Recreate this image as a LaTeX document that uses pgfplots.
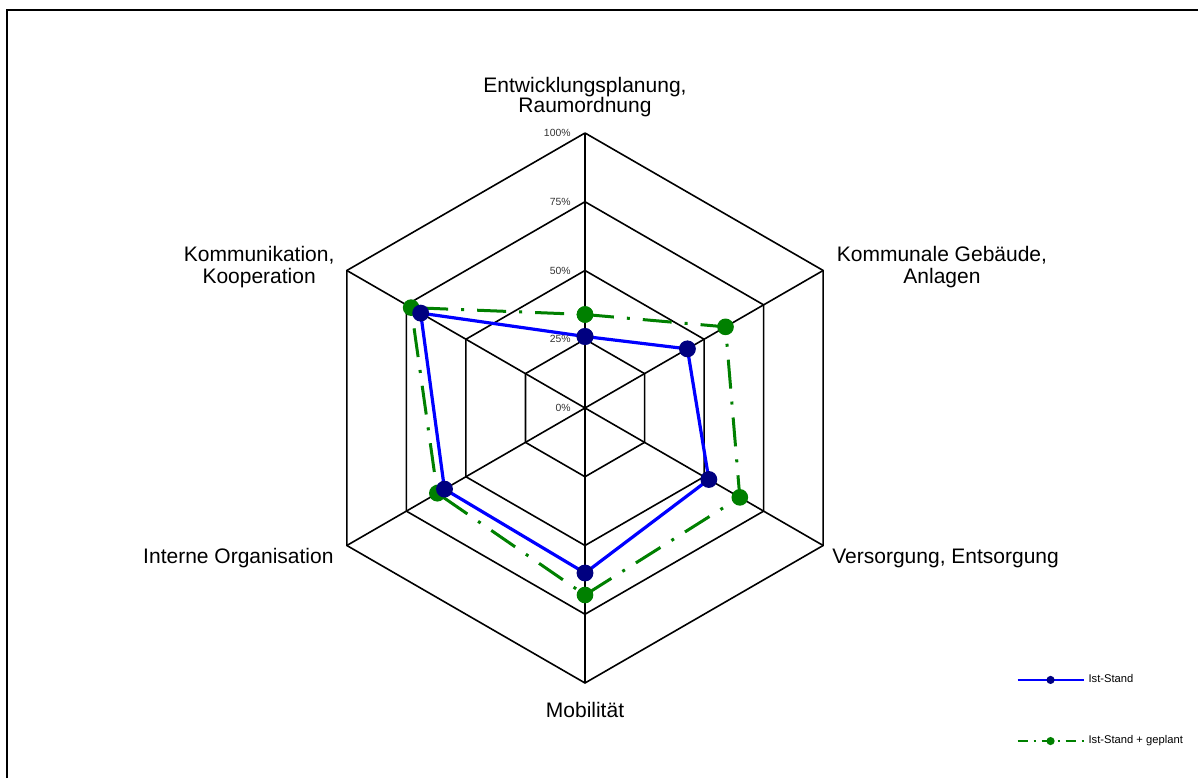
\documentclass[border=0pt]{standalone}
\usepackage{fontspec}
\setmainfont{Liberation Sans}
\usepackage{pgfplots}
\pgfplotsset{compat=1.18}
\definecolor{istline}{RGB}{0,0,255}
\definecolor{istmark}{RGB}{0,0,128}
\definecolor{plangreen}{RGB}{0,128,0}
\tikzset{
    lbl/.style={inner sep=0pt, font=\fontsize{10.5}{12.6}\selectfont},
    tck/.style={inner sep=0pt, anchor=east, text=black!80, font=\fontsize{5.2}{6}\selectfont},
}
\pgfplotsset{
    grid line/.style={black, line width=0.8pt, forget plot, mark=none},
    planlegend/.style={legend image code/.code={\draw[##1, dash pattern=on 5pt off 3pt on 1pt off 3pt,
        mark repeat=2, mark phase=2] plot coordinates {(0pt,0pt) (16.5pt,0pt) (33pt,0pt)};}},
}

\begin{document}
\begin{tikzpicture}
\begin{axis}[
    scale only axis, width=599pt, height=389pt,
    xmin=-212.73, xmax=222.91, ymin=-134.55, ymax=148.36,
    hide axis, clip=false,
    legend style={draw=none, fill=none, at={(axis cs:154.6,-110)}, anchor=west,
        font=\fontsize{5.6}{6.5}\selectfont, row sep=21pt, cells={anchor=west}},
    legend image code/.code={\draw[#1, mark repeat=2, mark phase=2]
        plot coordinates {(0pt,0pt) (16.5pt,0pt) (33pt,0pt)};},
    legend image post style={mark size=1.5pt, line width=1pt},
    reverse legend,
]
% Netz (Sechsecke und Speichen)
\addplot[grid line, data cs=polar] coordinates {(90,25) (30,25) (-30,25) (-90,25) (-150,25) (150,25) (90,25)};
\addplot[grid line, data cs=polar] coordinates {(90,50) (30,50) (-30,50) (-90,50) (-150,50) (150,50) (90,50)};
\addplot[grid line, data cs=polar] coordinates {(90,75) (30,75) (-30,75) (-90,75) (-150,75) (150,75) (90,75)};
\addplot[grid line, data cs=polar] coordinates {(90,100) (30,100) (-30,100) (-90,100) (-150,100) (150,100) (90,100)};
\addplot[grid line, data cs=polar] coordinates {(90,100) (270,100)};
\addplot[grid line, data cs=polar] coordinates {(30,100) (210,100)};
\addplot[grid line, data cs=polar] coordinates {(150,100) (330,100)};

% Ist-Stand + geplant
\addplot[data cs=polar, plangreen, line width=1.5pt, dash pattern=on 14.5pt off 6.5pt on 1.5pt off 6.5pt,
    mark=*, mark size=3.4pt, mark options={solid, fill=plangreen, draw=plangreen}, planlegend]
    coordinates {(90,34) (30,59) (-30,65) (-90,68) (-150,62) (150,73) (90,34)};
\addlegendentry{Ist-Stand + geplant}

% Ist-Stand
\addplot[data cs=polar, istline, line width=1.6pt,
    mark=*, mark size=3.4pt, mark options={fill=istmark, draw=istmark}]
    coordinates {(90,26) (30,43) (-30,52) (-90,60) (-150,59) (150,69) (90,26)};
\addlegendentry{Ist-Stand}

% Prozentbeschriftung
\node[tck] at (axis cs:-5.1,0) {0\%};
\node[tck] at (axis cs:-5.1,25) {25\%};
\node[tck] at (axis cs:-5.1,50) {50\%};
\node[tck] at (axis cs:-5.1,75) {75\%};
\node[tck] at (axis cs:-5.1,100) {100\%};

% Achsentitel
\node[lbl, anchor=base] at (axis cs:0,114.9) {Entwicklungsplanung,};
\node[lbl, anchor=base] at (axis cs:0,107.3) {Raumordnung};
\node[lbl, anchor=base] at (axis cs:129.8,53.1) {Kommunale Gebäude,};
\node[lbl, anchor=base] at (axis cs:129.8,45.1) {Anlagen};
\node[lbl, anchor=base west] at (axis cs:89.8,-56.4) {Versorgung, Entsorgung};
\node[lbl, anchor=base] at (axis cs:0,-112.7) {Mobilität};
\node[lbl, anchor=base east] at (axis cs:-91.3,-56.4) {Interne Organisation};
\node[lbl, anchor=base] at (axis cs:-118.5,53.2) {Kommunikation,};
\node[lbl, anchor=base] at (axis cs:-118.5,45.3) {Kooperation};

% Rahmen
\draw[black, line width=1pt] (axis cs:-210.1,-134.55) -- (axis cs:-210.1,144.7) -- (axis cs:222.91,144.7);

\coordinate (bl) at (rel axis cs:0,0);
\coordinate (tr) at (rel axis cs:1,1);
\end{axis}
\pgfresetboundingbox
\useasboundingbox (bl) rectangle (tr);
\end{tikzpicture}
\end{document}
